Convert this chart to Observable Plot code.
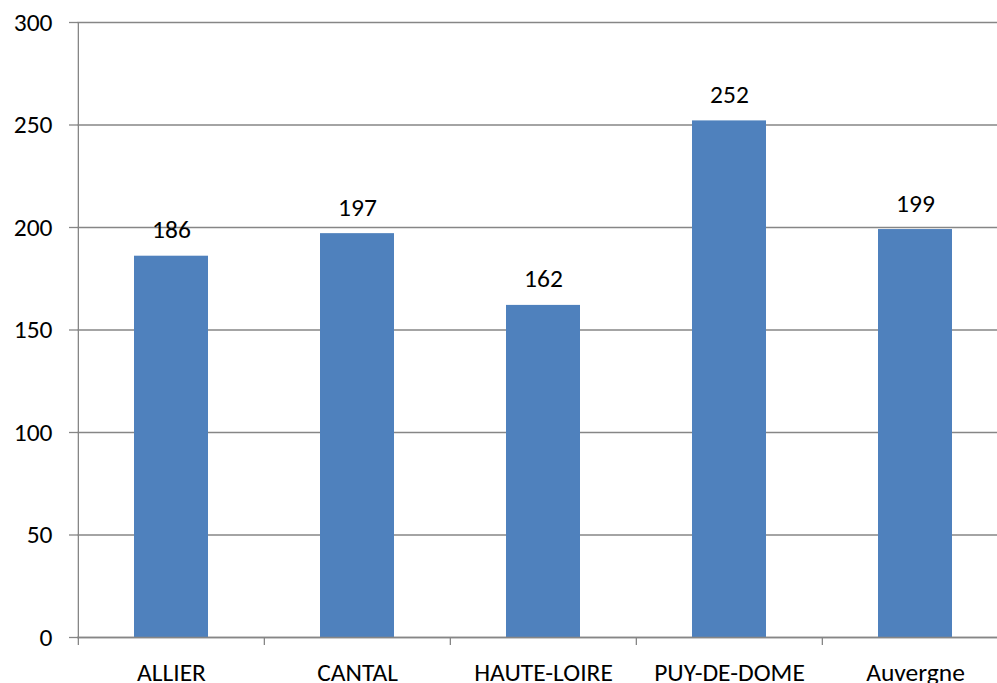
<!DOCTYPE html>
<html>
<head>
<meta charset="utf-8">
<script src="https://cdn.jsdelivr.net/npm/d3@7"></script>
<script src="https://cdn.jsdelivr.net/npm/@observablehq/plot@0.6"></script>
<style>
  html, body { margin: 0; padding: 0; background: #fff; }
  #chart svg { display: block; }
</style>
</head>
<body>
<div id="chart"></div>
<script>
const categories = ["ALLIER", "CANTAL", "HAUTE-LOIRE", "PUY-DE-DOME", "Auvergne"];
const values = [186, 197, 162, 252, 199];
const yTicks = [0, 50, 100, 150, 200, 250, 300];

const data = categories.map((c, i) => ({category: c, value: values[i]}));
const gray = "#868686";
const step = 186.3;

const chart = Plot.plot({
  width: 997,
  height: 683,
  marginLeft: 77,
  marginRight: 0,
  marginTop: 22,
  marginBottom: 46,
  style: {fontFamily: "Carlito, Lato, sans-serif", fontSize: "25.5px", color: "#000", background: "#fff"},
  x: {domain: categories, range: [77, 77 + 5 * step], paddingInner: 0.6, paddingOuter: 0.3, label: null},
  y: {domain: [0, 300], label: null},
  marks: [
    Plot.gridY(yTicks, {stroke: gray, strokeOpacity: 1, strokeWidth: 1.3}),
    Plot.barY(data, {x: "category", y: "value", fill: "#4F81BD"}),
    Plot.ruleY([0], {stroke: gray, strokeWidth: 1.3}),
    Plot.ruleX([categories[0]], {x: d => d, dx: -step / 2, y1: 0, y2: 300, stroke: gray, strokeWidth: 1.3}),
    Plot.axisY({ticks: yTicks, tickSize: 8, tickPadding: 17, stroke: gray, strokeWidth: 1.3, label: null}),
    Plot.axisX({tickSize: 8, tickFormat: () => "", dx: -step / 2, stroke: gray, strokeWidth: 1.3, label: null}),
    Plot.axisX({tickSize: 0, tickPadding: 25, label: null}),
    Plot.text(data, {x: "category", y: "value", text: d => String(d.value), lineAnchor: "bottom", dy: -18, fill: "#000"})
  ]
});
document.getElementById("chart").appendChild(chart);
</script>
</body>
</html>
